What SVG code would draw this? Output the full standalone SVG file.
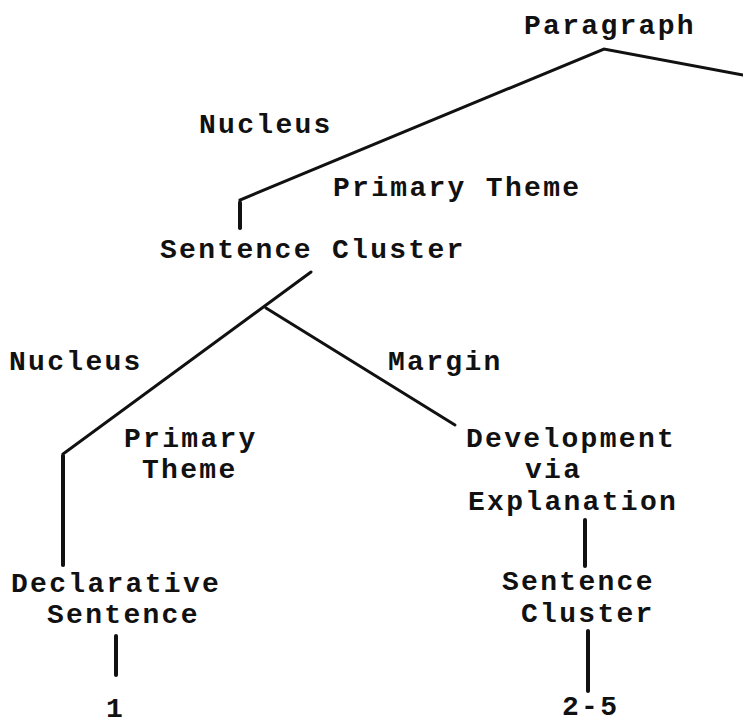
<svg xmlns="http://www.w3.org/2000/svg" width="743" height="728" viewBox="0 0 743 728">
  <style>
    text { font-family: "Liberation Mono", "Courier New", monospace; font-size: 28px; font-weight: bold; letter-spacing: 2.3px; fill: #111; }
    .edge { stroke: #111; stroke-width: 3; fill: none; stroke-linecap: round; stroke-linejoin: miter; }
    .stem { stroke: #111; stroke-width: 4; fill: none; stroke-linecap: round; }
  </style>
  <rect width="743" height="728" fill="#fff"/>

  <g id="connectors">
    <!-- Paragraph branches -->
    <polyline class="edge" points="240,228 240,200 604,49 743,75"/>
    <!-- Sentence Cluster branches -->
    <polyline class="edge" points="63,565 63,454 311,272"/>
    <line class="edge" x1="266" y1="308" x2="455" y2="425"/>
    <line class="stem" x1="240" y1="203" x2="240" y2="228"/>
    <line class="stem" x1="63" y1="456" x2="63" y2="565"/>
    <!-- stems to leaves -->
    <line class="stem" x1="585" y1="520" x2="585" y2="566"/>
    <line class="stem" x1="588" y1="631" x2="588" y2="691"/>
    <line class="stem" x1="116" y1="636" x2="116" y2="675"/>
  </g>

  <g id="paragraph"><text x="524" y="34">Paragraph</text></g>
  <g id="label-nucleus-1"><text x="199" y="133">Nucleus</text></g>
  <g id="label-primary-theme-1"><text x="333" y="196">Primary Theme</text></g>
  <g id="sentence-cluster"><text x="160" y="258">Sentence Cluster</text></g>
  <g id="label-nucleus-2"><text x="9" y="370">Nucleus</text></g>
  <g id="label-margin"><text x="388" y="370">Margin</text></g>
  <g id="label-primary-theme-2">
    <text x="124" y="447">Primary</text>
    <text x="142" y="478">Theme</text>
  </g>
  <g id="development">
    <text x="466" y="447">Development</text>
    <text x="525" y="478">via</text>
    <text x="468" y="510">Explanation</text>
  </g>
  <g id="declarative-sentence">
    <text x="11" y="592">Declarative</text>
    <text x="47" y="623">Sentence</text>
  </g>
  <g id="sentence-cluster-2">
    <text x="502" y="590">Sentence</text>
    <text x="521" y="622">Cluster</text>
  </g>
  <g id="leaf-1"><text x="106" y="717">1</text></g>
  <g id="leaf-2-5"><text x="562" y="715">2-5</text></g>
</svg>
